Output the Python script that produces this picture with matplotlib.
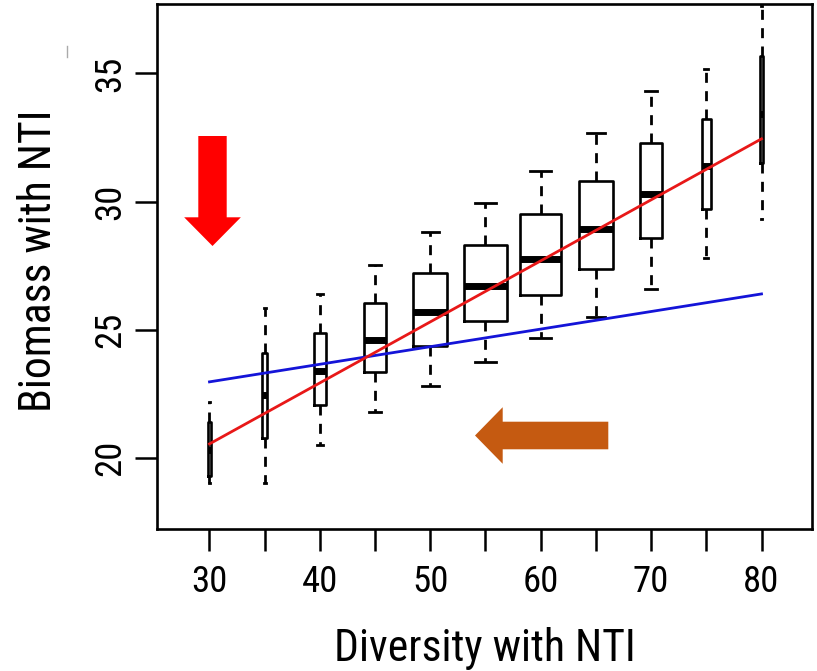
import matplotlib
matplotlib.use('Agg')
import matplotlib.pyplot as plt
import matplotlib.patches as patches
import matplotlib.transforms as mtransforms
from matplotlib.lines import Line2D

plt.rcParams['font.family'] = ['Liberation Sans Narrow', 'Roboto Condensed', 'Open Sans Condensed',
                               'Liberation Sans', 'DejaVu Sans']

# box summaries
diversity = [30, 35, 40, 45, 50, 55, 60, 65, 70, 75, 80]
biomass_whislo = [19.01, 19.01, 20.49, 21.81, 22.81, 23.75, 24.67, 25.50, 26.59, 27.81, 29.33]
biomass_q1 = [19.30, 20.77, 22.05, 23.34, 24.37, 25.36, 26.36, 27.39, 28.59, 29.70, 31.52]
biomass_med = [20.30, 22.45, 23.38, 24.60, 25.69, 26.71, 27.77, 28.94, 30.29, 31.39, 33.40]
biomass_q3 = [21.42, 24.10, 24.86, 26.05, 27.22, 28.31, 29.51, 30.82, 32.27, 33.24, 35.69]
biomass_whishi = [22.19, 25.87, 26.40, 27.52, 28.80, 29.93, 31.19, 32.68, 34.30, 35.16, 37.62]

# fitted lines, values at both ends
fit_x = [30, 80]
fit_red = [20.55, 32.45]
fit_blue = [22.97, 26.40]

# box widths (varwidth look)
box_widths = [0.24, 0.40, 1.07, 2.04, 3.10, 3.85, 3.76, 3.12, 2.04, 0.77, 0.24]

W, H = 817, 671
fig = plt.figure(figsize=(W / 100, H / 100), dpi=100)
ax = fig.add_axes([157 / W, 1 - 529 / H, 655 / W, 525 / H])

stats = []
for lo, a, m, b, hi in zip(biomass_whislo, biomass_q1, biomass_med, biomass_q3, biomass_whishi):
    stats.append(dict(whislo=lo, q1=a, med=m, q3=b, whishi=hi, fliers=[]))

ax.bxp(stats, positions=diversity, widths=box_widths,
       capwidths=[w * 0.5 for w in box_widths], showfliers=False, manage_ticks=False,
       boxprops=dict(color='black', linewidth=1.9),
       medianprops=dict(color='black', linewidth=5, solid_capstyle='butt'),
       whiskerprops=dict(color='black', linewidth=2.0, linestyle=(0, (3.6, 3))),
       capprops=dict(color='black', linewidth=2.0))

ax.plot(fit_x, fit_blue, color='#1414d8', lw=2.0, zorder=3)
ax.plot(fit_x, fit_red, color='#e81818', lw=2.0, zorder=4)

ax.set_xlim(25.245, 84.574)
ax.set_ylim(17.23, 37.71)

ax.set_xticks(diversity)
ax.set_xticklabels([str(d) if d % 10 == 0 else '' for d in diversity])
ax.set_yticks([20, 25, 30, 35])
ax.tick_params(length=16, width=1.8, labelsize=26.5, direction='out', color='black')
ax.tick_params(axis='x', pad=9.5)
ax.tick_params(axis='y', pad=5, labelrotation=90)
for lab in ax.get_yticklabels():
    lab.set_va('center')
for sp in ax.spines.values():
    sp.set_linewidth(1.9)

ax.set_xlabel('Diversity with NTI', fontsize=31.5)
ax.xaxis.set_label_coords(0.5, -0.1867)
ax.set_ylabel('Biomass with NTI', fontsize=31.5)
ax.yaxis.set_label_coords(-0.148, 0.51)

# arrows drawn in pixel space of the figure
px = mtransforms.Affine2D().scale(1 / W, -1 / H).translate(0, 1) + fig.transFigure
red_arrow = patches.FancyArrow(212.5, 136, 0, 110, width=28.4, head_width=56.7, head_length=28.7,
                               length_includes_head=True, color='#ff0000', lw=0, transform=px)
orange_arrow = patches.FancyArrow(608.3, 435.5, -133.3, 0, width=27.6, head_width=56.6, head_length=27.7,
                                  length_includes_head=True, color='#c55a11', lw=0, transform=px)
fig.add_artist(red_arrow)
fig.add_artist(orange_arrow)

# small stray mark top left
fig.add_artist(Line2D([67 / W, 67 / W], [1 - 46 / H, 1 - 57 / H], color='#aaaaaa', lw=1))

fig.savefig('out.png', dpi=100)
